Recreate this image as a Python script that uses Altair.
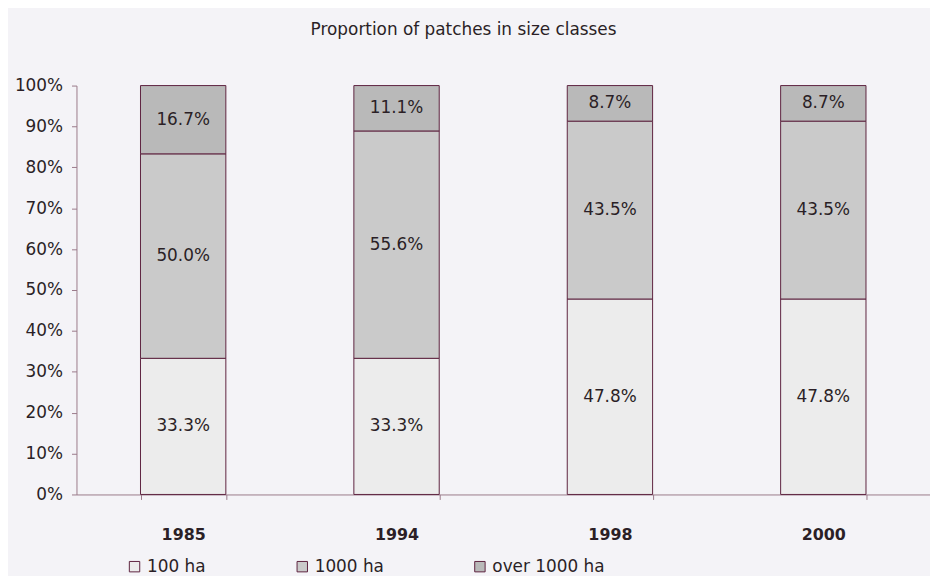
import altair as alt
import pandas as pd

years = ["1985", "1994", "1998", "2000"]
classes = ["100 ha", "1000 ha", "over 1000 ha"]
v100 = [0.333, 0.333, 0.478, 0.478]
v1000 = [0.500, 0.556, 0.435, 0.435]
vover = [0.167, 0.111, 0.087, 0.087]
colors = ["#ececec", "#cacaca", "#b9b9b9"]

rows = []
for i, y in enumerate(years):
    for k, (cls, vals) in enumerate(zip(classes, [v100, v1000, vover])):
        rows.append({"year": y, "cls": cls, "value": vals[i], "order": k})
df = pd.DataFrame(rows)

ink = "#2b1f26"
font = "DejaVu Sans"
base = alt.Chart(df).transform_stack(
    stack="value", as_=["y0", "y1"], groupby=["year"], sort=[{"field": "order"}]
).transform_calculate(mid="(datum.y0 + datum.y1) / 2")

x_axis = alt.Axis(labelAngle=0, labelFontWeight="bold", labelFontSize=16,
                  labelColor=ink, labelPadding=27, tickBand="extent",
                  tickSize=5, domainColor="#9a7a8a", tickColor="#9a7a8a")
y_axis = alt.Axis(format=".0%", values=[i / 10 for i in range(11)], grid=False,
                  labelFontSize=17, labelColor=ink, tickSize=5, labelPadding=9,
                  domainColor="#9a7a8a", tickColor="#9a7a8a")
x_scale = alt.Scale(paddingInner=0.6, paddingOuter=0.3)
y_scale = alt.Scale(domain=[0, 1], nice=False)

bars = base.mark_bar(stroke="#5e2340", strokeWidth=1).encode(
    x=alt.X("year:N", sort=years, title=None, scale=x_scale, axis=x_axis),
    y=alt.Y("y0:Q", scale=y_scale, title=None, axis=y_axis),
    y2="y1:Q",
    fill=alt.Fill("cls:N", scale=alt.Scale(domain=classes, range=colors), title=None,
                  legend=alt.Legend(orient="none", legendX=50, legendY=476, direction="horizontal",
                                    columns=3, gridAlign="each", columnPadding=88,
                                    symbolType="square", symbolSize=110,
                                    symbolStrokeColor="#5e2340", symbolStrokeWidth=1,
                                    labelFontSize=17, labelColor=ink, labelOffset=4,
                                    labelFont=font)),
)

labels = base.mark_text(fontSize=17, color=ink, font=font).encode(
    x=alt.X("year:N", sort=years, title=None, scale=x_scale, axis=x_axis),
    y=alt.Y("mid:Q", scale=y_scale, title=None, axis=y_axis),
    text=alt.Text("value:Q", format=".1%"),
)

chart = (bars + labels).properties(
    width=860, height=412,
    background="#f4f3f7",
    padding={"left": 69, "top": 76, "right": 0, "bottom": 80},
    autosize=alt.AutoSizeParams(type="none"),
    title=alt.Title("Proportion of patches in size classes", fontSize=17, fontWeight="normal",
                    color=ink, offset=38, dx=-40, anchor="middle", font=font),
).configure(font=font, view=alt.ViewConfig(stroke=None))

chart.save("out.html", embed_options={"renderer": "svg", "actions": False})
